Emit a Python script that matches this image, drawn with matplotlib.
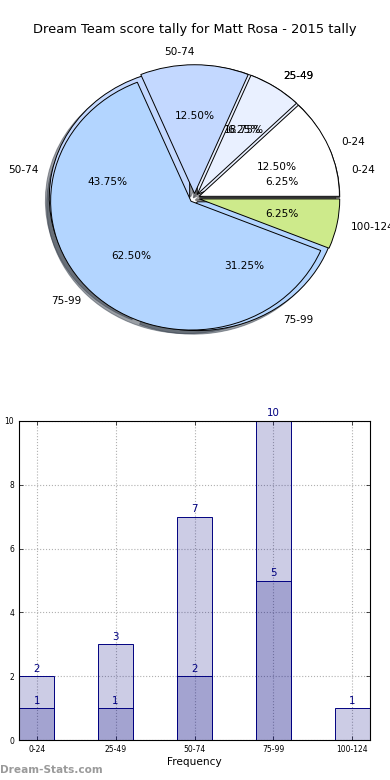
import matplotlib
matplotlib.use('Agg')
import matplotlib.pyplot as plt
import numpy as np

# score ranges
categories = ['0-24', '25-49', '50-74', '75-99', '100-124']

# pie data (two pies drawn on top of each other)
pie_back = [1, 3, 7, 5]
pie_front = [2, 1, 2, 10, 1]
pie_colors = ['#ffffff', '#e9f0ff', '#c3d8ff', '#b3d5ff', '#cdea8b']

# bar data
bars_light = [2, 3, 7, 10, 1]
bars_dark = [1, 1, 2, 5, 0]

fig = plt.figure(figsize=(3.9, 7.8), dpi=100)

# --- pie ---
ax1 = fig.add_axes([19 / 390, 0.5397, 351 / 390, 0.4128])
for vals, expl in [(pie_back, 0.035), (pie_front, 0.035)]:
    wedges, texts, autotexts = ax1.pie(
        vals, labels=categories[:len(vals)], colors=pie_colors[:len(vals)],
        explode=[expl] * len(vals), autopct='%1.2f%%', shadow=True,
        labeldistance=1.1, pctdistance=0.6,
        wedgeprops={'edgecolor': 'black', 'linewidth': 0.7},
        textprops={'fontsize': 7.6})
ax1.set_aspect('auto')
ax1.set_xlim(-1.25, 1.25)
ax1.set_ylim(-1.25, 1.25)
ax1.set_title('Dream Team score tally for Matt Rosa - 2015 tally',
              fontsize=9.4, pad=3)

# --- bars ---
ax2 = fig.add_axes([19 / 390, 40 / 780, 351 / 390, 319 / 780])
x = np.arange(len(categories))
w = 0.45
ax2.bar(x, bars_light, w, color=(0, 0, 0.5, 0.2), edgecolor='navy', linewidth=0.7)
ax2.bar(x, bars_dark, w, color=(0, 0, 0.5, 0.2), edgecolor='navy', linewidth=0.7)
for xi, v in zip(x, bars_light):
    ax2.text(xi, v + 0.08, str(v), ha='center', va='bottom', color='navy', fontsize=7.4)
for xi, v in zip(x, bars_dark):
    if v > 0:
        ax2.text(xi, v + 0.08, str(v), ha='center', va='bottom', color='navy', fontsize=7.4)
ax2.set_xlim(-w / 2, len(categories) - 1 + w / 2)
ax2.set_ylim(0, 10)
ax2.set_xticks(x)
ax2.set_xticklabels(categories)
ax2.set_yticks(np.arange(0, 11, 2))
ax2.tick_params(direction='in', top=True, right=True, labelsize=5.5, length=3, width=0.5)
ax2.grid(True, color='#b0b0b0', linestyle=':', linewidth=0.8)
ax2.set_axisbelow(True)
ax2.set_xlabel('Frequency', fontsize=7.6, labelpad=2)
ax2.set_ylabel('Score Tally', fontsize=7.2, labelpad=3)

fig.text(0.0, 0.0128, 'Dream-Stats.com', color='#9a9a9a', fontsize=7.6,
         fontweight='bold', ha='left', va='center')

fig.savefig('out.png', dpi=100)
